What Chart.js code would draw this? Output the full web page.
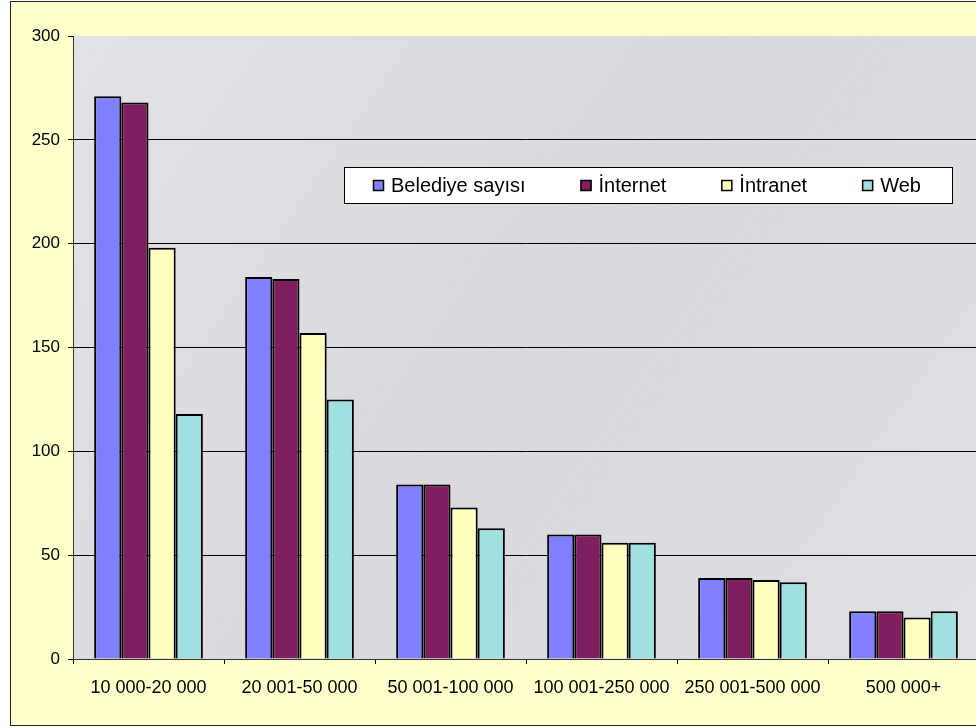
<!DOCTYPE html>
<html>
<head>
<meta charset="utf-8">
<script src="https://cdn.jsdelivr.net/npm/chart.js@4.4.1/dist/chart.umd.min.js"></script>
<style>
  html, body { margin: 0; padding: 0; width: 976px; height: 727px; overflow: hidden; background: #ffffff; }
  #frame { position: absolute; left: 10px; top: 1px; width: 1000px; height: 723px; border: 1px solid #222; background: #FFFFCC; }
  #c { position: absolute; left: 0; top: 0; }
</style>
</head>
<body>
<div id="frame"></div>
<canvas id="c" width="990" height="727"></canvas>
<script>
const categories = ['10 000-20 000', '20 001-50 000', '50 001-100 000', '100 001-250 000', '250 001-500 000', '500 000+'];
const seriesNames = ['Belediye sayısı', 'İnternet', 'İntranet', 'Web'];
const belediye = [271, 184, 84, 60, 39, 23];
const internet = [268, 183, 84, 60, 39, 23];
const intranet = [198, 157, 73, 56, 38, 20];
const web      = [118, 125, 63, 56, 37, 23];
const yTicks = [0, 50, 100, 150, 200, 250, 300];

const colors = ['#8080FF', '#801F5F', '#FFFFC0', '#A0E0E0'];
const FONT = '"Liberation Sans", Arial, sans-serif';

const plotBg = {
  id: 'plotBg',
  beforeDraw(chart) {
    const a = chart.chartArea, ctx = chart.ctx;
    ctx.save();
    const g = ctx.createLinearGradient(a.left, a.top, a.right, a.bottom);
    g.addColorStop(0, '#E2E2E6');
    g.addColorStop(0.5, '#D9D9DD');
    g.addColorStop(1, '#E0E0E4');
    ctx.fillStyle = g;
    ctx.fillRect(a.left, a.top, a.right - a.left, a.bottom - a.top);
    ctx.restore();
  }
};

const boxLegend = {
  id: 'boxLegend',
  afterDatasetsDraw(chart) {
    const ctx = chart.ctx;
    const bx = 344, by = 167, bw = 608, bh = 36;
    ctx.save();
    ctx.fillStyle = '#FFFFFF';
    ctx.fillRect(bx, by, bw, bh);
    ctx.strokeStyle = '#000';
    ctx.lineWidth = 1;
    ctx.strokeRect(bx + 0.5, by + 0.5, bw, bh);
    ctx.font = '20px ' + FONT;
    ctx.textBaseline = 'middle';
    let x = 373;
    const cy = by + bh / 2 + 1;
    chart.data.datasets.forEach((ds) => {
      ctx.fillStyle = ds.backgroundColor;
      ctx.fillRect(x, cy - 6, 11, 11);
      ctx.strokeStyle = '#000';
      ctx.lineWidth = 1.5;
      ctx.strokeRect(x + 0.5, cy - 5.5, 10, 10);
      ctx.fillStyle = '#000';
      ctx.fillText(ds.label, x + 18, cy);
      x += 18 + ctx.measureText(ds.label).width + 55;
    });
    ctx.restore();
  }
};

const dataArrays = [belediye, internet, intranet, web];

new Chart(document.getElementById('c'), {
  type: 'bar',
  data: {
    labels: categories,
    datasets: seriesNames.map((n, i) => ({
      label: n,
      data: dataArrays[i],
      backgroundColor: colors[i],
      borderColor: '#000',
      borderWidth: 2,
      categoryPercentage: 0.72,
      barPercentage: 1.0
    }))
  },
  options: {
    responsive: false,
    animation: false,
    layout: { padding: { left: 0, right: 11, top: 36, bottom: 0 } },
    plugins: { legend: { display: false }, tooltip: { enabled: false }, title: { display: false } },
    scales: {
      x: {
        afterFit(s) { s.height = 68; },
        grid: { display: true, drawOnChartArea: false, drawTicks: true, tickLength: 5, color: '#000', offset: true },
        border: { display: true, color: '#333', width: 1 },
        ticks: { color: '#000', font: { family: FONT, size: 18 }, padding: 13, maxRotation: 0, autoSkip: false }
      },
      y: {
        min: 0, max: 300,
        afterFit(s) { s.width = 73; },
        afterBuildTicks(s) { s.ticks = yTicks.map(v => ({ value: v })); },
        grid: {
          drawOnChartArea: true, drawTicks: true, tickLength: 5,
          color: (c) => (c.tick && c.tick.value === 300) ? 'rgba(0,0,0,0)' : '#000',
          tickColor: '#000', lineWidth: 1
        },
        border: { display: true, color: '#333', width: 1 },
        ticks: { color: '#000', font: { family: FONT, size: 17 }, padding: 8 }
      }
    }
  },
  plugins: [plotBg, boxLegend]
});
</script>
</body>
</html>
